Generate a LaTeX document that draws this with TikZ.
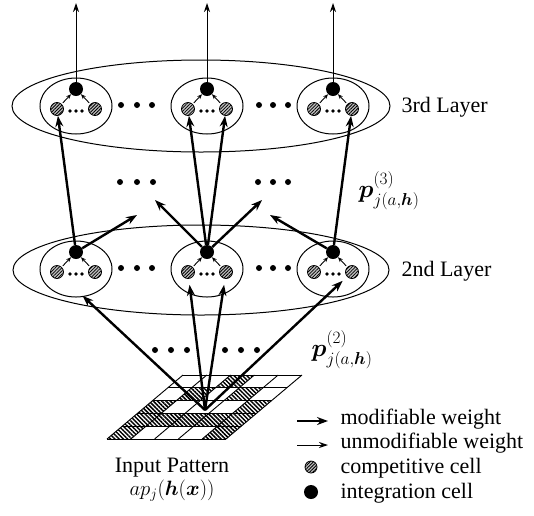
\documentclass[tikz,border=0pt]{standalone}
\usepackage{amsmath}
\usepackage{fontspec}
\setmainfont{Liberation Serif}
\usetikzlibrary{arrows.meta,patterns,patterns.meta}
\newcommand{\cellgroup}[3]{%
  \draw[ell] (#2,#3) ellipse [x radius=36pt, y radius=28pt];
  \node[bcell] (#1b) at (#2,#3-17) {};
  \node[hcell] (#1l) at (#2-19,#3+3) {};
  \node[hcell] (#1r) at (#2+19,#3+3) {};
  \node[smalldot] (#1d1) at (#2-6,#3+5) {};
  \node[smalldot] (#1d2) at (#2,#3+5) {};
  \node[smalldot] (#1d3) at (#2+6,#3+5) {};
  \draw[tinyarr, shorten <=1.5pt] (#1l) -- (#1b);
  \draw[tinyarr, shorten <=1.5pt] (#1r) -- (#1b);
}
\begin{document}
\begin{tikzpicture}[x=1pt,y=-1pt,
  font=\fontsize{22}{26}\selectfont,
  thickarr/.style={line width=2.4pt, -{Stealth[length=11pt,width=8pt]}},
  thinarr/.style={line width=1pt, -{Stealth[length=9pt,width=6pt]}},
  tinyarr/.style={line width=0.9pt, -{Stealth[length=5pt,width=4pt]}},
  bcell/.style={circle,fill=black,inner sep=0pt,minimum size=14pt},
  hcell/.style={circle,draw,line width=0.8pt,inner sep=0pt,minimum size=13pt,fill=gray!50,
    postaction={pattern={Lines[angle=45,distance=2.3pt,line width=0.8pt]}}},
  bigdot/.style={circle,fill=black,inner sep=0pt,minimum size=6pt},
  smalldot/.style={circle,fill=black,inner sep=0pt,minimum size=3.6pt},
  ell/.style={line width=1pt},
  mathlab/.style={font=\fontsize{25}{30}\selectfont},
  gridhatch/.style={pattern={Lines[angle=-45,distance=3pt,line width=1.5pt]}}]
\useasboundingbox (0,0) rectangle (534,515);

% ---------- 3rd layer ----------
\draw[ell] (201,106) ellipse [x radius=189pt, y radius=46pt];
\cellgroup{A3}{76}{106}
\cellgroup{B3}{207}{106}
\cellgroup{C3}{333}{106}
\foreach \n/\x in {a/121,b/137,c/152,d/259,e/273,f/288}
  \node[bigdot] (t3\n) at (\x,105) {};
\node[anchor=base west] (L3) at (398,112) {3rd Layer};

% ---------- 2nd layer ----------
\draw[ell] (201,270) ellipse [x radius=188pt, y radius=45pt];
\cellgroup{A2}{76}{269}
\cellgroup{B2}{207}{269}
\cellgroup{C2}{333}{269}
\foreach \n/\x in {a/121,b/137,c/152,d/259,e/273,f/288}
  \node[bigdot] (t2\n) at (\x,268) {};
\node[anchor=base west] (L2) at (398,276) {2nd Layer};

% ---------- dots between layers ----------
\foreach \n/\x in {a/120,b/137,c/153,d/258,e/273,f/288}
  \node[bigdot] (m\n) at (\x,182) {};
\foreach \n/\x in {a/155,b/171,c/187,d/225,e/241,f/257}
  \node[bigdot] (q\n) at (\x,350) {};

% ---------- input grid ----------
\begin{scope}[shift={(183,375)}, x={(23.8pt,0pt)}, y={(-15.2pt,-12.8pt)}]
  \foreach \c/\r in {2/0,1/1,3/1,0/2,4/2,0/3,1/3,2/3,3/3,4/3,0/4,4/4}
    \fill[gridhatch] (\c,\r) -- (\c+1,\r) -- (\c+1,\r+1) -- (\c,\r+1) -- cycle;
  \foreach \i in {0,...,5} {
    \draw[line width=0.9pt] (\i,0) -- (\i,5);
    \draw[line width=0.9pt] (0,\i) -- (5,\i);
  }
\end{scope}
\coordinate (cv) at (205,410);

% ---------- connectors ----------
% outputs
\coordinate (o1) at (76,3);
\coordinate (o2) at (207,3);
\coordinate (o3) at (333,3);
\draw[thinarr] (A3b) -- (o1);
\draw[thinarr] (B3b) -- (o2);
\draw[thinarr] (C3b) -- (o3);
% 2nd -> 3rd
\draw[thickarr] (A2b) -- (A3l);
\draw[thickarr] (B2b) -- (B3l);
\draw[thickarr] (B2b) -- (B3r);
\draw[thickarr] (C2b) -- (C3r);
\coordinate (u1) at (137,215);
\coordinate (u2) at (155,200);
\coordinate (u3) at (262,200);
\coordinate (u4) at (270,215);
\draw[thickarr] (A2b) -- (u1);
\draw[thickarr] (B2b) -- (u2);
\draw[thickarr] (B2b) -- (u3);
\draw[thickarr] (C2b) -- (u4);
% input -> 2nd
\draw[thickarr, shorten >=28pt] (cv) -- (A2l);
\draw[thickarr, shorten >=6pt] (cv) -- (B2l);
\draw[thickarr, shorten >=6pt] (cv) -- (B2r);
\draw[thickarr, shorten >=6pt] (cv) -- (C2r);

% ---------- labels ----------
\node[mathlab] (p3) at (389,191) {$\boldsymbol{p}^{(3)}_{j(a,\boldsymbol{h})}$};
\node[mathlab] (p2) at (342,350) {$\boldsymbol{p}^{(2)}_{j(a,\boldsymbol{h})}$};
\node[anchor=base] (ip) at (172,472) {Input Pattern};
\node (ipf) at (172,491) {$ap_j(\boldsymbol{h}(\boldsymbol{x}))$};

% ---------- legend ----------
\coordinate (g1a) at (297,421);
\coordinate (g1b) at (328,421);
\coordinate (g2a) at (297,445);
\coordinate (g2b) at (328,445);
\draw[thickarr] (g1a) -- (g1b);
\draw[thinarr] (g2a) -- (g2b);
\node[hcell, minimum size=12pt] (gh) at (311,467) {};
\node[bcell] (gb) at (311,492) {};
\node[anchor=base west] (t1) at (337,424) {modifiable weight};
\node[anchor=base west] (t2) at (337,448) {unmodifiable weight};
\node[anchor=base west] (t3) at (337,473) {competitive cell};
\node[anchor=base west] (t4) at (337,498) {integration cell};
\end{tikzpicture}
\end{document}
